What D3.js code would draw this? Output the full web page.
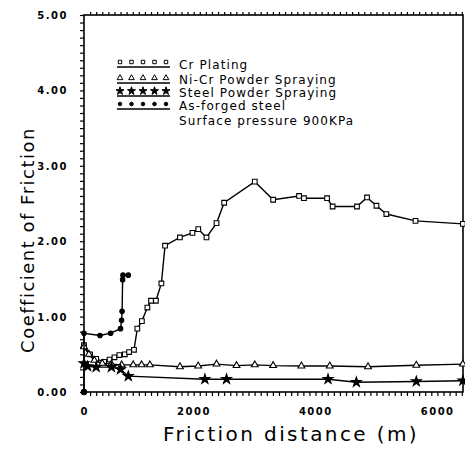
<!DOCTYPE html>
<html>
<head>
<meta charset="utf-8">
<script src="https://cdn.jsdelivr.net/npm/d3@7"></script>
<style>
  body { margin: 0; background: #fff; }
  svg { display: block; }
  .lbl { font-family: "DejaVu Sans", sans-serif; font-weight: bold; font-size: 10px; letter-spacing: 1.5px; fill: #000; }
  .title { font-family: "DejaVu Sans", sans-serif; font-size: 18px; letter-spacing: 1.5px; fill: #000; }
  .xtitle { font-family: "DejaVu Sans", sans-serif; font-size: 20px; letter-spacing: 2.4px; fill: #000; }
  .leg { font-family: "DejaVu Sans", sans-serif; font-size: 12px; letter-spacing: 1.1px; fill: #000; }
</style>
</head>
<body>
<div id="main"></div>
<script>
// data
var crPlating = [[0,0.62],[100,0.50],[200,0.44],[330,0.40],[420,0.43],[500,0.46],[580,0.49],[670,0.50],[740,0.53],[820,0.56],
  [875,0.84],[950,0.94],[1040,1.12],[1100,1.21],[1180,1.21],[1270,1.44],[1330,1.94],[1574,2.05],[1780,2.11],[1875,2.16],
  [2010,2.05],[2175,2.24],[2300,2.51],[2803,2.79],[3104,2.55],[3530,2.60],[3610,2.57],[3989,2.57],[4080,2.46],[4480,2.46],
  [4645,2.58],[4800,2.47],[4962,2.36],[5440,2.27],[6218,2.23]];
var niCrSpray = [[0,0.60],[80,0.50],[170,0.42],[300,0.38],[450,0.37],[618,0.36],[808,0.36],[945,0.36],[1082,0.36],
  [1574,0.335],[1874,0.345],[2175,0.37],[2503,0.35],[2803,0.36],[3104,0.35],[3568,0.345],[4033,0.345],[4661,0.335],
  [5454,0.355],[6218,0.37]];
var steelSpray = [[0,0.38],[60,0.34],[200,0.33],[450,0.33],[600,0.30],[727,0.21],[1984,0.17],[2339,0.17],[4005,0.17],
  [4470,0.13],[5454,0.14],[6218,0.15]];
var asForged = [[0,0],[0,0.78],[262,0.75],[437,0.78],[600,0.84],[617,0.95],[625,1.07],[634,1.49],[640,1.55],[727,1.55]];

var xTickLabels = [0, 2000, 4000, 6000];
var yTickLabels = [0, 1, 2, 3, 4, 5];
var legendNames = ["Cr Plating", "Ni-Cr Powder Spraying", "Steel Powder Spraying", "As-forged steel"];
var legendNote = "Surface pressure 900KPa";

var width = 465, height = 451;
var plotL = 84, plotR = 463, plotT = 15, plotB = 392;

var svg = d3.select("#main").append("svg")
    .attr("width", width)
    .attr("height", height);

var xScale = d3.scaleLinear().domain([0, 6220]).range([plotL, plotR]);
var yScale = d3.scaleLinear().domain([0, 5]).range([plotB, plotT]);

// minor ticks, bottom / top / left
svg.append("g")
    .attr("transform", "translate(0," + plotB + ")")
    .call(d3.axisBottom(xScale).tickValues(d3.range(100, 6201, 100)).tickSize(4).tickFormat(""))
    .call(function(g) { g.select(".domain").remove(); });
svg.append("g")
    .attr("transform", "translate(0," + plotT + ")")
    .call(d3.axisTop(xScale).tickValues(d3.range(100, 6201, 100)).tickSize(3).tickFormat(""))
    .call(function(g) { g.select(".domain").remove(); });
svg.append("g")
    .attr("transform", "translate(" + plotL + ",0)")
    .call(d3.axisLeft(yScale).tickValues(d3.range(0, 51).map(function(d) { return d / 10; })).tickSize(4).tickFormat(""))
    .call(function(g) { g.select(".domain").remove(); });
svg.selectAll(".tick line").attr("stroke-width", 1.2);

// frame
svg.append("rect")
    .attr("x", plotL).attr("y", plotT)
    .attr("width", plotR - plotL).attr("height", plotB - plotT)
    .attr("fill", "none").attr("stroke", "#000").attr("stroke-width", 1.6);

// tick labels
svg.selectAll(".xl").data(xTickLabels).enter().append("text")
    .attr("class", "lbl")
    .attr("x", function(d) { return xScale(d) + 5; })
    .attr("y", 415)
    .style("text-anchor", "end")
    .text(function(d) { return d; });
svg.selectAll(".yl").data(yTickLabels).enter().append("text")
    .attr("class", "lbl")
    .attr("x", 68)
    .attr("y", function(d) { return yScale(d) + 4; })
    .style("text-anchor", "end")
    .text(function(d) { return d.toFixed(2); });

// axis titles
svg.append("text")
    .attr("class", "title")
    .attr("transform", "translate(34,240) rotate(-90)")
    .style("text-anchor", "middle")
    .text("Coefficient of Friction");
svg.append("text")
    .attr("class", "xtitle")
    .attr("x", 291).attr("y", 441)
    .style("text-anchor", "middle")
    .text("Friction distance (m)");

var line = d3.line()
    .x(function(d) { return xScale(d[0]); })
    .y(function(d) { return yScale(d[1]); });

var series = [crPlating, niCrSpray, steelSpray, asForged];
var symTypes = [d3.symbolSquare, d3.symbolTriangle, d3.symbolStar, d3.symbolCircle];
var symSizes = [22, 20, 30, 16];
var filled = [false, false, true, true];

series.forEach(function(data, i) {
  svg.append("path")
      .datum(data)
      .attr("d", line)
      .attr("fill", "none")
      .attr("stroke", "#000")
      .attr("stroke-width", 1.4);
  svg.selectAll(".m" + i).data(data).enter().append("path")
      .attr("class", "m" + i)
      .attr("transform", function(d) { return "translate(" + xScale(d[0]) + "," + yScale(d[1]) + ")"; })
      .attr("d", d3.symbol().type(symTypes[i]).size(symSizes[i]))
      .attr("fill", filled[i] ? "#000" : "#fff")
      .attr("stroke", "#000")
      .attr("stroke-width", 1.1);
});

// big dot at origin
svg.append("circle").attr("cx", xScale(0)).attr("cy", yScale(0)).attr("r", 3.2).attr("fill", "#000");

// legend
var legY = [62, 78, 91, 104];
var symX = [120, 131.5, 143, 154.5, 166];
legendNames.forEach(function(name, i) {
  var g = svg.append("g");
  g.selectAll("path").data(symX).enter().append("path")
      .attr("transform", function(d) { return "translate(" + d + "," + legY[i] + ")"; })
      .attr("d", d3.symbol().type(symTypes[i]).size([12, 14, 20, 10][i]))
      .attr("fill", filled[i] ? "#000" : "#fff")
      .attr("stroke", "#000")
      .attr("stroke-width", 1);
  g.append("line")
      .attr("x1", 117).attr("x2", 170)
      .attr("y1", legY[i] + 5).attr("y2", legY[i] + 5)
      .attr("stroke", "#000").attr("stroke-width", 1.3);
  g.append("text")
      .attr("class", "leg")
      .attr("x", 179).attr("y", [69, 84, 97, 110][i])
      .text(name);
});
svg.append("text")
    .attr("class", "leg")
    .attr("x", 179).attr("y", 125)
    .text(legendNote);
</script>
</body>
</html>
